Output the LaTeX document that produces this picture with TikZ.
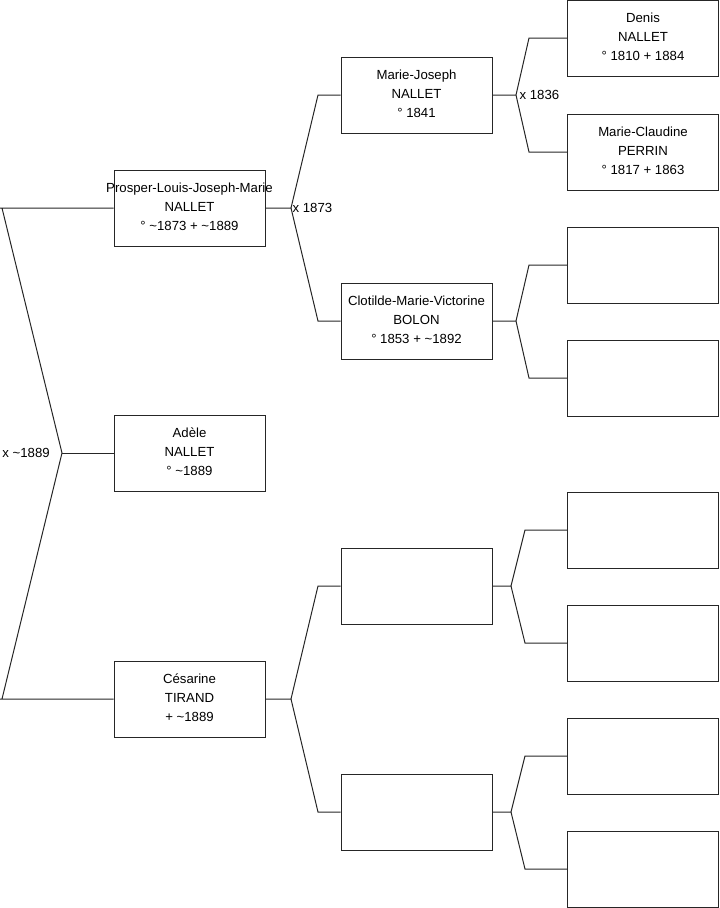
\documentclass[tikz,border=0pt]{standalone}
\usepackage{fontspec}
\setmainfont{Liberation Sans}
\usetikzlibrary{positioning}
\tikzset{
    personbox/.style={draw=black!85, line width=0.75pt, inner sep=0pt,
        minimum width=113.25pt, minimum height=57pt},
    personname/.style={font=\fontsize{9.9}{14.25}\selectfont, align=center, inner sep=0pt,
        yshift=1pt},
    link/.style={draw=black!85, line width=0.75pt},
    wedding/.style={font=\fontsize{9.9}{12}\selectfont, inner sep=1pt},
}

\begin{document}
\begin{tikzpicture}[x=0.75pt, y=-0.75pt]
    \useasboundingbox (0,0) rectangle (719,908);

    % first generation
    \node[personbox, label={[personname]center:{Prosper-Louis-Joseph-Marie\\NALLET\\° \textasciitilde1873 + \textasciitilde1889}}]
        (prosper) at (189.5,208) {};
    \node[personbox, label={[personname]center:{Adèle\\NALLET\\° \textasciitilde1889}}]
        (adele) at (189.5,453) {};
    \node[personbox, label={[personname]center:{Césarine\\TIRAND\\+ \textasciitilde1889}}]
        (cesarine) at (189.5,699) {};

    % second generation
    \node[personbox, label={[personname]center:{Marie-Joseph\\NALLET\\° 1841\hspace{6pt}}}]
        (mariejoseph) at (416.5,95) {};
    \node[personbox, label={[personname]center:{Clotilde-Marie-Victorine\\BOLON\\° 1853 + \textasciitilde1892}}]
        (clotilde) at (416.5,321) {};
    \node[personbox] (cesfather) at (416.5,586) {};
    \node[personbox] (cesmother) at (416.5,812) {};

    % third generation
    \node[personbox, label={[personname]center:{Denis\\NALLET\\° 1810 + 1884}}]
        (denis) at (643,38) {};
    \node[personbox, label={[personname]center:{Marie-Claudine\\PERRIN\\° 1817 + 1863}}]
        (marieclaudine) at (643,152) {};
    \node[personbox] (clofather) at (643,265) {};
    \node[personbox] (clomother) at (643,378) {};
    \node[personbox] (cfatherfather) at (643,530) {};
    \node[personbox] (cfathermother) at (643,643) {};
    \node[personbox] (cmotherfather) at (643,756) {};
    \node[personbox] (cmothermother) at (643,869) {};

    % root fork
    \coordinate (rootfork) at (62,453);
    \coordinate (rootup) at (2,208);
    \coordinate (rootdown) at (2,699);
    \draw[link] (prosper.west) -- (0,208) (rootup) -- (rootfork) -- (rootdown) -- (0,699) -- (cesarine.west);
    \draw[link] (rootfork) -- (adele.west);
    \node[wedding, anchor=east] (rootwed) at ([xshift=-8pt]rootfork) {x \textasciitilde1889};

    % prosper fork
    \coordinate (pfork) at (291,208);
    \coordinate (pup) at (318,95);
    \coordinate (pdown) at (318,321);
    \draw[link] (prosper.east) -- (pfork) -- (pup) -- (mariejoseph.west);
    \draw[link] (pfork) -- (pdown) -- (clotilde.west);
    \node[wedding, anchor=west] (pwed) at (pfork) {x 1873};

    % cesarine fork
    \coordinate (cfork) at (291,699);
    \coordinate (cup) at (318,586);
    \coordinate (cdown) at (318,812);
    \draw[link] (cesarine.east) -- (cfork) -- (cup) -- (cesfather.west);
    \draw[link] (cfork) -- (cdown) -- (cesmother.west);

    % marie-joseph fork
    \coordinate (mjfork) at (516,95);
    \coordinate (mjup) at (529,38);
    \coordinate (mjdown) at (529,152);
    \draw[link] (mariejoseph.east) -- (mjfork) -- (mjup) -- (denis.west);
    \draw[link] (mjfork) -- (mjdown) -- (marieclaudine.west);
    \node[wedding, anchor=west] (mjwed) at ([xshift=1.5pt]mjfork) {x 1836};

    % clotilde fork
    \coordinate (clfork) at (516,321);
    \coordinate (clup) at (529,265);
    \coordinate (cldown) at (529,378);
    \draw[link] (clotilde.east) -- (clfork) -- (clup) -- (clofather.west);
    \draw[link] (clfork) -- (cldown) -- (clomother.west);

    % cesarine's father fork
    \coordinate (cffork) at (511,586);
    \coordinate (cfup) at (525,530);
    \coordinate (cfdown) at (525,643);
    \draw[link] (cesfather.east) -- (cffork) -- (cfup) -- (cfatherfather.west);
    \draw[link] (cffork) -- (cfdown) -- (cfathermother.west);

    % cesarine's mother fork
    \coordinate (cmfork) at (511,812);
    \coordinate (cmup) at (525,756);
    \coordinate (cmdown) at (525,869);
    \draw[link] (cesmother.east) -- (cmfork) -- (cmup) -- (cmotherfather.west);
    \draw[link] (cmfork) -- (cmdown) -- (cmothermother.west);
\end{tikzpicture}
\end{document}
